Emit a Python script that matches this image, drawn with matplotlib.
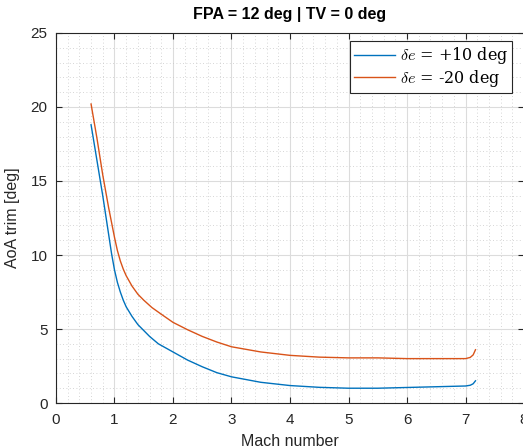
import numpy as np
import matplotlib
matplotlib.use("Agg")
from matplotlib import pyplot as plt
from matplotlib.ticker import MultipleLocator

plt.rcParams['font.family'] = ['Liberation Sans', 'DejaVu Sans']
plt.rcParams['mathtext.fontset'] = 'cm'

# Mach number / trim angle of attack
mach_pos = [0.6, 0.7, 0.8, 0.9, 0.95, 1.0, 1.05, 1.1, 1.15, 1.2, 1.3, 1.4, 1.5, 1.6,
            1.75, 2.0, 2.25, 2.5, 2.75, 3.0, 3.5, 4.0, 4.5, 5.0, 5.5,
            6.0, 6.5, 7.0, 7.08, 7.13, 7.17]
aoa_pos = [18.8, 16.4, 14.0, 11.4, 10.1, 9.0, 8.15, 7.5, 6.95, 6.5, 5.85, 5.3, 4.9, 4.5,
           4.0, 3.45, 2.9, 2.45, 2.05, 1.77, 1.4, 1.18, 1.06, 1.0, 1.0,
           1.05, 1.1, 1.15, 1.2, 1.3, 1.5]

mach_neg = [0.6, 0.7, 0.8, 0.9, 1.0, 1.05, 1.1, 1.15, 1.2, 1.3, 1.4, 1.5, 1.64, 1.8,
            2.0, 2.25, 2.5, 2.75, 3.0, 3.5, 4.0, 4.5, 5.0, 5.5, 6.0,
            6.5, 7.0, 7.08, 7.13, 7.17]
aoa_neg = [20.2, 17.9, 15.4, 13.2, 11.2, 10.3, 9.6, 9.05, 8.6, 7.9, 7.35, 6.95, 6.45, 6.0,
           5.45, 4.95, 4.5, 4.12, 3.8, 3.45, 3.22, 3.1, 3.05, 3.05, 3.0,
           3.0, 3.0, 3.08, 3.25, 3.6]

labels = [r'$\delta e$ = +10 deg', r'$\delta e$ = -20 deg']

fig = plt.figure(figsize=(5.23, 4.48), dpi=100)
ax = fig.add_axes([0.107, 0.1004, 0.895, 0.826])

ax.plot(mach_pos, aoa_pos, color='#0072BD', lw=1.0, label=labels[0])
ax.plot(mach_neg, aoa_neg, color='#D95319', lw=1.0, label=labels[1])

ax.set_xlim(0, 8)
ax.set_ylim(0, 25)
ax.xaxis.set_major_locator(MultipleLocator(1))
ax.xaxis.set_minor_locator(MultipleLocator(0.2))
ax.yaxis.set_major_locator(MultipleLocator(5))
ax.yaxis.set_minor_locator(MultipleLocator(1))

ax.grid(which='major', color='#dcdcdc', lw=0.8)
ax.grid(which='minor', color='#c8c8c8', lw=0.6, ls=(0, (1, 3)))
ax.set_axisbelow(True)

ax.tick_params(which='both', direction='in', top=True, right=True,
               labelsize=11, colors='#262626', length=4)
ax.tick_params(axis='x', pad=7)
ax.tick_params(axis='y', pad=6)
ax.tick_params(which='minor', length=0)
for s in ax.spines.values():
    s.set_color('#262626')
    s.set_linewidth(0.8)

ax.set_xlabel('Mach number', fontsize=11.5, color='#262626', labelpad=5)
ax.set_ylabel('AoA trim [deg]', fontsize=11.5, color='#262626', labelpad=8)
ax.set_title('FPA = 12 deg | TV = 0 deg', fontsize=11.5, fontweight='bold', pad=10)

leg = ax.legend(loc='upper right', bbox_to_anchor=(0.975, 0.978),
                prop={'family': 'DejaVu Serif', 'size': 11.5},
                fancybox=False, framealpha=1, edgecolor='#262626',
                handlelength=2.6, borderpad=0.25, labelspacing=0.1, handletextpad=0.3,
                borderaxespad=0)
leg.get_frame().set_linewidth(0.8)

fig.savefig('out.png', dpi=100)
